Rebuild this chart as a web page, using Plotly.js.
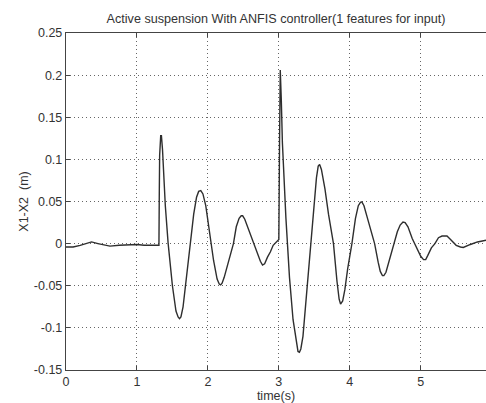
<!DOCTYPE html>
<html>
<head>
<meta charset="utf-8">
<script src="https://cdn.plot.ly/plotly-3.0.1.min.js"></script>
<style>html,body{margin:0;padding:0;background:#fff;}#chart{width:486px;height:403px;}</style>
</head>
<body>
<div id="chart"></div>
<script>
const timeS = [0, 0.1, 0.2, 0.3, 0.36, 0.45, 0.55, 0.62, 0.75, 0.9, 1.0, 1.1, 1.2, 1.31,
  1.315, 1.32, 1.335, 1.345, 1.36, 1.40, 1.44, 1.50, 1.55, 1.58, 1.60, 1.62, 1.65, 1.70, 1.75, 1.80, 1.84, 1.87, 1.90,
  1.93, 1.97, 2.03, 2.08, 2.13, 2.16, 2.18, 2.20, 2.23, 2.30, 2.36, 2.40, 2.44, 2.47, 2.49, 2.52, 2.56, 2.60, 2.66,
  2.70, 2.74, 2.77, 2.80, 2.84, 2.88, 2.92, 2.98, 3.00, 3.01, 3.02, 3.035, 3.05, 3.10, 3.15, 3.20,
  3.25, 3.27, 3.29, 3.31, 3.34, 3.38, 3.46, 3.50, 3.53, 3.555, 3.575, 3.60, 3.62, 3.65, 3.70, 3.77, 3.82, 3.85, 3.87, 3.90, 3.93,
  3.97, 4.03, 4.08, 4.12, 4.15, 4.17, 4.20, 4.24, 4.29, 4.35, 4.40, 4.43, 4.46, 4.48, 4.51, 4.55, 4.62, 4.67,
  4.71, 4.75, 4.78, 4.82, 4.88, 4.94, 5.00, 5.04, 5.07, 5.10, 5.15, 5.20, 5.25, 5.30, 5.37, 5.42, 5.50,
  5.56, 5.60, 5.70, 5.80, 5.92];
const x1MinusX2 = [-0.004, -0.004, -0.002, 0.001, 0.002, 0.0, -0.002, -0.003, -0.002, -0.001, -0.001, -0.002, -0.002, -0.002,
  0.06, 0.105, 0.128, 0.128, 0.112, 0.045, 0.0, -0.05, -0.08, -0.087, -0.089, -0.087, -0.075, -0.04, 0.0, 0.035, 0.055, 0.062, 0.063,
  0.059, 0.045, 0.01, -0.02, -0.042, -0.048, -0.049, -0.047, -0.04, -0.018, 0.0, 0.02, 0.030, 0.033, 0.033, 0.029, 0.02, 0.01, -0.004,
  -0.012, -0.021, -0.0255, -0.024, -0.016, -0.01, -0.002, 0.004, 0.005, 0.12, 0.206, 0.17, 0.12, 0.03, -0.04, -0.09,
  -0.12, -0.128, -0.129, -0.125, -0.11, -0.07, 0.0, 0.05, 0.078, 0.092, 0.094, 0.088, 0.08, 0.065, 0.035, 0.0, -0.045, -0.066, -0.0717, -0.068, -0.055,
  -0.03, 0.0, 0.03, 0.045, 0.049, 0.0495, 0.045, 0.033, 0.018, 0.0, -0.022, -0.033, -0.038, -0.038, -0.034, -0.022, 0.0, 0.014,
  0.022, 0.0257, 0.025, 0.02, 0.006, -0.004, -0.015, -0.019, -0.019, -0.014, -0.005, 0.0, 0.007, 0.009, 0.009, 0.005, -0.002,
  -0.004, -0.0045, -0.001, 0.002, 0.004];
const xTickVals = [0, 1, 2, 3, 4, 5];
const xTickText = ['0', '1', '2', '3', '4', '5'];
const yTickVals = [-0.15, -0.1, -0.05, 0, 0.05, 0.1, 0.15, 0.2, 0.25];
const yTickText = ['-0.15', '-0.1', '-0.05', '0', '0.05', '0.1', '0.15', '0.2', '0.25'];

const fontFam = 'Liberation Sans, Arial, sans-serif';
const txtColor = '#333';
const trace = {
  x: timeS, y: x1MinusX2, type: 'scatter', mode: 'lines',
  line: {color: '#2e2e2e', width: 1.4}, hoverinfo: 'skip'
};
const layout = {
  width: 486, height: 403,
  margin: {l: 66, r: 0, t: 33, b: 33, pad: 0},
  paper_bgcolor: '#fff', plot_bgcolor: '#fff',
  showlegend: false,
  font: {family: fontFam, size: 12, color: txtColor},
  title: {text: 'Active suspension With ANFIS controller(1 features for input)',
    font: {family: fontFam, size: 12.6, color: txtColor},
    x: 0.5, xref: 'paper', xanchor: 'center', y: 0.953, yref: 'container', yanchor: 'middle'},
  xaxis: {
    range: [0, 5.92], tickvals: xTickVals, ticktext: xTickText,
    ticks: 'inside', ticklen: 4, tickcolor: '#444', tickwidth: 1,
    showline: true, linecolor: '#444', linewidth: 1.2, mirror: 'ticks',
    showgrid: true, gridcolor: '#666', griddash: '1px,3px', gridwidth: 1,
    zeroline: false,
    tickfont: {family: fontFam, size: 12.5, color: txtColor},
    title: {text: 'time(s)', font: {family: fontFam, size: 12.5, color: txtColor}, standoff: 2}
  },
  yaxis: {
    range: [-0.15, 0.25], tickvals: yTickVals, ticktext: yTickText,
    ticks: 'inside', ticklen: 4, tickcolor: '#444', tickwidth: 1,
    showline: true, linecolor: '#444', linewidth: 1.2, mirror: false,
    showgrid: true, gridcolor: '#666', griddash: '1px,3px', gridwidth: 1,
    zeroline: false,
    tickfont: {family: fontFam, size: 12.5, color: txtColor},
    title: {text: 'X1-X2  (m)', font: {family: fontFam, size: 12.5, color: txtColor}, standoff: 2}
  }
};
Plotly.newPlot('chart', [trace], layout, {staticPlot: true, displayModeBar: false});
</script>
</body>
</html>
